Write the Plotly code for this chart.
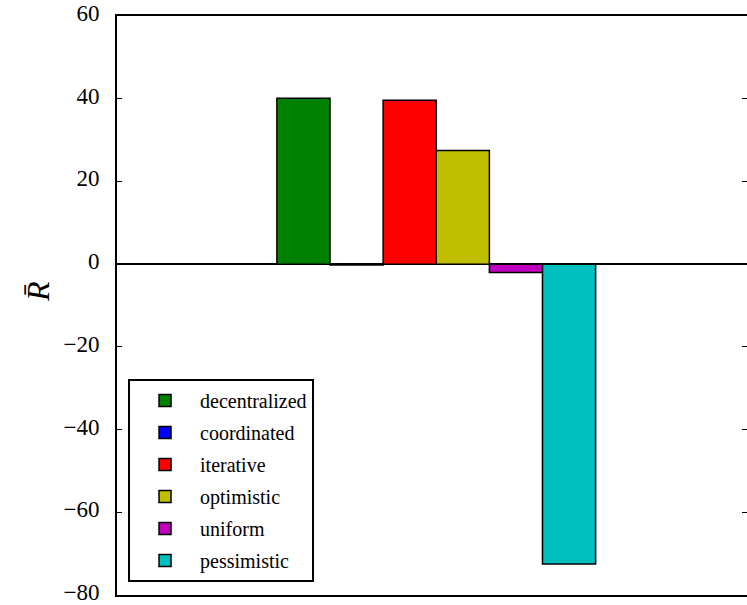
import plotly.graph_objects as go

methods = ["decentralized", "coordinated", "iterative", "optimistic", "uniform", "pessimistic"]
mean_reward = [40.1, -0.2, 39.6, 27.5, -2.0, -72.5]
colors = ["#008000", "#0000ff", "#ff0000", "#bfbf00", "#bf00bf", "#00bfbf"]
y_ticks = [-80, -60, -40, -20, 0, 20, 40, 60]

FONT = "Liberation Serif"

fig = go.Figure()
for i, (name, val, col) in enumerate(zip(methods, mean_reward, colors)):
    fig.add_trace(go.Bar(
        x=[i], y=[val], name=name, width=1, legendgroup=name,
        marker=dict(color=col, line=dict(color="black", width=1.5)),
    ))

# invisible trace to carry right-side ticks
fig.add_trace(go.Scatter(x=[0], y=[0], yaxis="y2", mode="markers",
                         marker=dict(opacity=0), showlegend=False, hoverinfo="skip"))

fig.update_layout(
    width=747, height=605,
    margin=dict(l=117, r=0, t=16, b=10, autoexpand=False),
    paper_bgcolor="white", plot_bgcolor="white",
    barmode="overlay",
    font=dict(family=FONT, color="black"),
    xaxis=dict(range=[-3.51, 8.35], showgrid=False, zeroline=False,
               showticklabels=False, ticks="", showline=True, linecolor="black",
               linewidth=2, mirror=True, automargin=False),
    yaxis=dict(range=[-80, 60], tickvals=y_ticks, showgrid=False,
               zeroline=True, zerolinecolor="black", zerolinewidth=2,
               ticks="inside", ticklen=5, tickwidth=1, tickcolor="black",
               showline=True, linecolor="black", linewidth=2, mirror=False,
               tickfont=dict(family=FONT, size=23), ticklabelstandoff=11,
               ticklabelshift=-3,
               ticklabeloverflow="allow", automargin=False),
    yaxis2=dict(range=[-80, 60], tickvals=y_ticks, overlaying="y", side="right",
                showgrid=False, zeroline=False, showline=False,
                ticks="inside", ticklen=5, tickwidth=1, tickcolor="black",
                showticklabels=False, automargin=False),
    legend=dict(x=0.0175, y=0.0225, xanchor="left", yanchor="bottom",
                bordercolor="black", borderwidth=2, bgcolor="white",
                font=dict(family=FONT, size=20), itemwidth=60,
                tracegroupgap=3, traceorder="grouped"),
    showlegend=True,
)

fig.add_annotation(text="<i>R̄</i>", xref="paper", yref="paper",
                   x=-(117 - 38) / 630, y=(595 - 292) / 579, showarrow=False,
                   textangle=-90, font=dict(family=FONT, size=32),
                   xanchor="center", yanchor="middle")

fig.write_html("out.html")
